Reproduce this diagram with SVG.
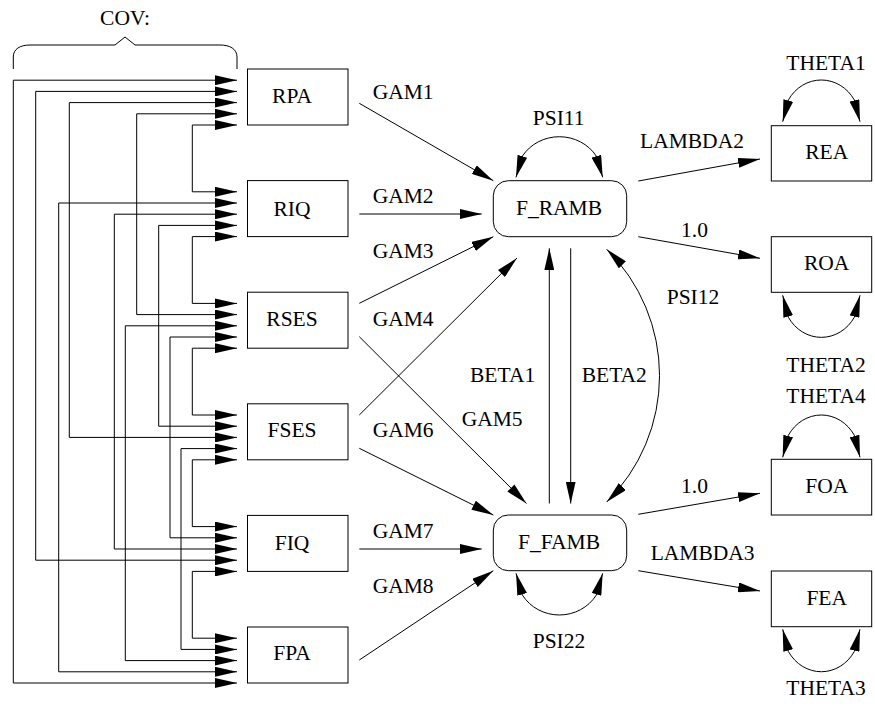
<svg xmlns="http://www.w3.org/2000/svg" width="875" height="708" viewBox="0 0 875 708">
<style>
text{font-family:"Liberation Serif","Times New Roman",serif;font-size:21.5px;fill:#000}
.c{text-anchor:middle}
.box{fill:#fff;stroke:#000;stroke-width:1}
.ln{fill:none;stroke:#000;stroke-width:1}
.a2{marker-start:url(#ah);marker-end:url(#ah)}
.a1{marker-end:url(#ah)}
</style>
<defs>
<marker id="ah" markerUnits="userSpaceOnUse" markerWidth="22" markerHeight="10" viewBox="0 0 22 10" refX="22" refY="5" orient="auto-start-reverse">
<path d="M0,0 L22,5 L0,10 z" fill="#000"/>
</marker>
</defs>
<rect width="875" height="708" fill="#fff"/>

<g id="cov-brace">
<path class="ln" d="M13.3,69 V57 C13.3,49 20,45 30,45 H115 L125,37 L135,45 H220 C230,45 237,49 237,57 V69"/>
<text class="c" x="125" y="25">COV:</text>
</g>

<g id="connectors">
<!-- covariances among exogenous -->
<path class="ln a2" d="M237,125 H192.3 V191.8 H237"/>
<path class="ln a2" d="M237,236.6 H192.3 V303.4 H237"/>
<path class="ln a2" d="M237,348.2 H192.3 V415 H237"/>
<path class="ln a2" d="M237,459.8 H192.3 V526.6 H237"/>
<path class="ln a2" d="M237,571.4 H192.3 V638.2 H237"/>
<path class="ln a2" d="M237,113.8 H136.7 V314.6 H237"/>
<path class="ln a2" d="M237,225.4 H158.7 V426.2 H237"/>
<path class="ln a2" d="M237,337 H170 V537.8 H237"/>
<path class="ln a2" d="M237,448.6 H181 V649.4 H237"/>
<path class="ln a2" d="M237,102.6 H69.3 V437.4 H237"/>
<path class="ln a2" d="M237,214.2 H114.3 V549 H237"/>
<path class="ln a2" d="M237,325.8 H125.3 V660.6 H237"/>
<path class="ln a2" d="M237,91.4 H35.7 V560.2 H237"/>
<path class="ln a2" d="M237,203 H58.7 V671.8 H237"/>
<path class="ln a2" d="M237,80.2 H13.3 V683 H237"/>

<!-- gammas -->
<path class="ln a1" d="M359.3,103.3 L493.3,180.7"/>
<path class="ln a1" d="M359.3,214 L481.7,214"/>
<path class="ln a1" d="M359.3,303.3 L493.3,236.7"/>
<path class="ln a1" d="M359.3,415 L517,258"/>
<path class="ln a1" d="M359.3,336.7 L526.5,503.5"/>
<path class="ln a1" d="M359.3,448.3 L493.3,515"/>
<path class="ln a1" d="M359.3,549 L481.7,549"/>
<path class="ln a1" d="M359.3,660 L493.3,570.7"/>

<!-- betas -->
<path class="ln a1" d="M549.3,503.5 V248.3"/>
<path class="ln a1" d="M570.7,248.3 V503.5"/>

<!-- psi -->
<path class="ln a2" d="M516,177.3 L522.4,156.1 A43.35,40.6 0 0 1 596.3,156.1 L602.7,177.3"/>
<path class="ln a2" d="M516,573.3 L522.4,595.1 A43.35,41.7 0 0 0 596.3,595.1 L602.7,573.3"/>
<path class="ln a2" d="M606.7,249.3 A177.5,177.5 0 0 1 606.7,502"/>

<!-- loadings -->
<path class="ln a1" d="M638.3,181 L760,159"/>
<path class="ln a1" d="M638.3,236.7 L760,258.3"/>
<path class="ln a1" d="M638.3,514.3 L760,493.3"/>
<path class="ln a1" d="M638.3,570.7 L760,591"/>

<!-- thetas -->
<path class="ln a2" d="M782.7,121.7 L788.4,99.9 A38.65,41.7 0 0 1 854.3,99.9 L860,121.7"/>
<path class="ln a2" d="M782.7,295.3 L788.4,317.3 A38.65,42 0 0 0 854.3,317.3 L860,295.3"/>
<path class="ln a2" d="M782.7,457.3 L788.4,435.2 A38.65,42.3 0 0 1 854.3,435.2 L860,457.3"/>
<path class="ln a2" d="M782.7,629.3 L788.4,651.5 A38.65,42.4 0 0 0 854.3,651.5 L860,629.3"/>
</g>

<g id="labels">
<text x="372.7" y="99.3">GAM1</text>
<text x="372.7" y="202.7">GAM2</text>
<text x="372.7" y="258.3">GAM3</text>
<text x="372.7" y="326">GAM4</text>
<text x="461.7" y="426">GAM5</text>
<text x="372.7" y="436.7">GAM6</text>
<text x="372.7" y="538.3">GAM7</text>
<text x="372.7" y="592.7">GAM8</text>
<text x="470" y="381.7">BETA1</text>
<text x="581.7" y="381.7">BETA2</text>
<text class="c" x="558.7" y="125">PSI11</text>
<text class="c" x="559" y="648.3">PSI22</text>
<text x="666.7" y="304">PSI12</text>
<text x="640" y="148.3">LAMBDA2</text>
<text x="681" y="237.3">1.0</text>
<text x="681" y="493.3">1.0</text>
<text x="650.7" y="560">LAMBDA3</text>
<text class="c" x="826" y="70">THETA1</text>
<text class="c" x="826" y="371.7">THETA2</text>
<text class="c" x="826" y="403.3">THETA4</text>
<text class="c" x="826" y="695">THETA3</text>
</g>

<g id="RPA"><rect class="box" x="247.5" y="69" width="100.5" height="56"/><text class="c" x="292" y="103.3">RPA</text></g>
<g id="RIQ"><rect class="box" x="247.5" y="180.6" width="100.5" height="56"/><text class="c" x="292" y="215.7">RIQ</text></g>
<g id="RSES"><rect class="box" x="247.5" y="292.2" width="100.5" height="56"/><text class="c" x="292" y="326">RSES</text></g>
<g id="FSES"><rect class="box" x="247.5" y="403.8" width="100.5" height="56"/><text class="c" x="292" y="436.7">FSES</text></g>
<g id="FIQ"><rect class="box" x="247.5" y="515.4" width="100.5" height="56"/><text class="c" x="292" y="550">FIQ</text></g>
<g id="FPA"><rect class="box" x="247.5" y="627" width="100.5" height="56"/><text class="c" x="292" y="660">FPA</text></g>

<g id="F_RAMB"><rect class="box" x="493.3" y="180.7" width="133.4" height="56" rx="15"/><text class="c" x="559" y="215">F_RAMB</text></g>
<g id="F_FAMB"><rect class="box" x="493.3" y="515" width="133.4" height="55.7" rx="15"/><text class="c" x="559" y="549">F_FAMB</text></g>

<g id="REA"><rect class="box" x="771.3" y="125.7" width="100.4" height="55.3"/><text class="c" x="826.7" y="159.3">REA</text></g>
<g id="ROA"><rect class="box" x="771.3" y="236.7" width="100.4" height="55.6"/><text class="c" x="826.7" y="270">ROA</text></g>
<g id="FOA"><rect class="box" x="771.3" y="459.3" width="100.4" height="55.7"/><text class="c" x="826.7" y="493.3">FOA</text></g>
<g id="FEA"><rect class="box" x="771.3" y="571" width="100.4" height="55.7"/><text class="c" x="826.7" y="605">FEA</text></g>
</svg>
